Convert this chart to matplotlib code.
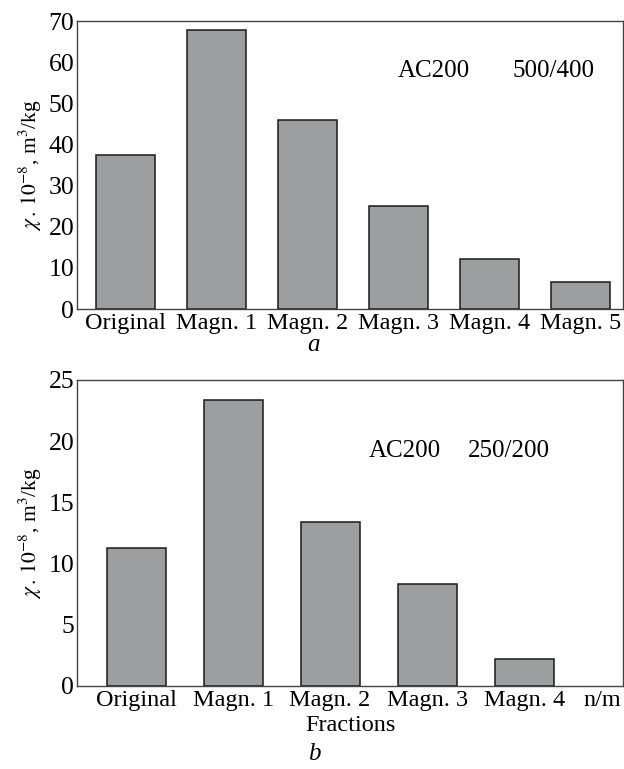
import matplotlib as m
m.use('Agg')
import matplotlib.pyplot as plt
import numpy as np

plt.rcParams['font.family'] = ['Liberation Serif', 'DejaVu Serif']
plt.rcParams['mathtext.fontset'] = 'stix'

# panel a
cats_a = ['Original', 'Magn. 1', 'Magn. 2', 'Magn. 3', 'Magn. 4', 'Magn. 5']
vals_a = [37.5, 67.8, 46.0, 25.0, 12.3, 6.6]
# panel b
cats_b = ['Original', 'Magn. 1', 'Magn. 2', 'Magn. 3', 'Magn. 4', 'n/m']
vals_b = [11.3, 23.4, 13.4, 8.3, 2.2, 0.0]

ylab = r'$\chi\,.\,10^{-8}$, m$^3$/kg'
bar_col = '#9d9ea0'
edge_col = '#1a1a1a'
spine_col = '#444444'

fig = plt.figure(figsize=(6.24, 7.69), dpi=100)

def style(ax):
	for s in ax.spines.values():
		s.set_color(spine_col)
		s.set_linewidth(1.0)
	ax.tick_params(length=0, pad=3)
	ax.tick_params('x', labelsize=17.5)
	ax.tick_params('y', labelsize=18.5, pad=2)

def lws(vals):
	return [1.1 if v > 0 else 0 for v in vals]

#### panel a ####
ax1 = fig.add_axes([0.1234, 0.598, 0.875, 0.3745])
x = np.arange(len(cats_a))
ax1.bar(x, vals_a, width=0.65, color=bar_col, edgecolor=edge_col, linewidth=lws(vals_a))
ax1.set_xlim(-0.53, 5.47)
ax1.set_ylim(0, 70)
ax1.set_yticks(np.arange(0, 71, 10))
ax1.set_xticks(x)
ax1.set_xticklabels(cats_a)
ax1.set_ylabel(ylab, fontsize=15.5, labelpad=3)
style(ax1)
ax1.text(3.39, 57.8, 'AC200', fontsize=18, ha='center', va='center')
ax1.text(4.71, 57.8, '500/400', fontsize=18, ha='center', va='center')
fig.text(0.503, 1 - 345 / 769, 'a', fontsize=18, style='italic', ha='center', va='center')

#### panel b ####
ax2 = fig.add_axes([0.1234, 0.1083, 0.875, 0.3976])
x = np.arange(len(cats_b))
ax2.bar(x, vals_b, width=0.61, color=bar_col, edgecolor=edge_col, linewidth=lws(vals_b))
ax2.set_xlim(-0.61, 5.02)
ax2.set_ylim(0, 25)
ax2.set_yticks(np.arange(0, 26, 5))
ax2.set_xticks(x)
ax2.set_xticklabels(cats_b)
ax2.get_xticklabels()[-1].set_ha('right')
ax2.set_ylabel(ylab, fontsize=15.5, labelpad=3)
ax2.set_xlabel('Fractions', fontsize=17.5, labelpad=3)
style(ax2)
ax2.text(2.77, 19.2, 'AC200', fontsize=18, ha='center', va='center')
ax2.text(3.84, 19.2, '250/200', fontsize=18, ha='center', va='center')
fig.text(0.503, 1 - 754 / 769, 'b', fontsize=18, style='italic', ha='center', va='center')

plt.savefig('out.png', dpi=100)
